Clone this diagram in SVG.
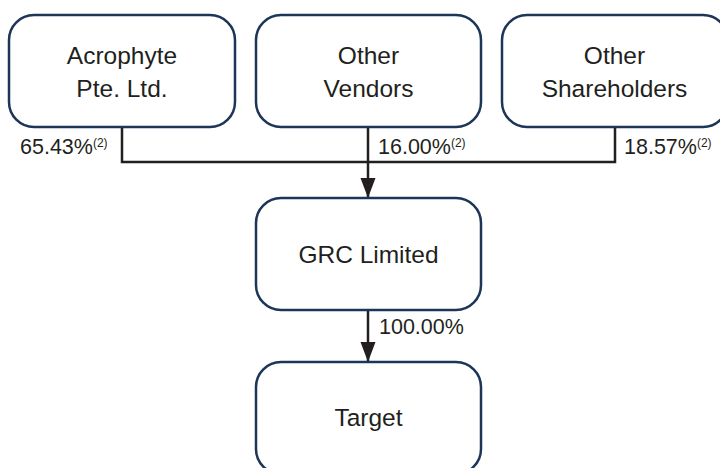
<svg xmlns="http://www.w3.org/2000/svg" width="720" height="468" viewBox="0 0 720 468">
<defs>
<style>
.box{fill:#fff;stroke:#1d3557;stroke-width:2.5}
.t{font-family:"Liberation Sans",Arial,sans-serif;font-size:24.5px;fill:#231f20;text-anchor:middle}
.l{font-family:"Liberation Sans",Arial,sans-serif;font-size:21.5px;fill:#231f20}
.s{font-size:12px}
.c{fill:none;stroke:#231f20;stroke-width:2.5}
</style>
<marker id="ah" markerUnits="userSpaceOnUse" markerWidth="20" markerHeight="16" refX="20" refY="8" orient="auto" viewBox="0 0 20 16">
<path d="M0,0.5 L20,8 L0,15.5 Z" fill="#231f20"/>
</marker>
</defs>
<rect width="720" height="468" fill="#fff"/>
<g id="connectors">
<path class="c" d="M122,127 V162 H615 V127"/>
<path class="c" d="M368,127 V198" marker-end="url(#ah)"/>
<path class="c" d="M368,310 V362" marker-end="url(#ah)"/>
</g>
<g id="acrophyte">
<rect class="box" x="9" y="15" width="226" height="112" rx="25"/>
<text class="t" x="122" y="64">Acrophyte</text>
<text class="t" x="122" y="97">Pte. Ltd.</text>
</g>
<g id="other-vendors">
<rect class="box" x="256" y="15" width="225" height="112" rx="25"/>
<text class="t" x="368.5" y="64">Other</text>
<text class="t" x="368.5" y="97">Vendors</text>
</g>
<g id="other-shareholders">
<rect class="box" x="502" y="15" width="226" height="112" rx="25"/>
<text class="t" x="614.5" y="64">Other</text>
<text class="t" x="614.5" y="97">Shareholders</text>
</g>
<g id="grc">
<rect class="box" x="256" y="198" width="225" height="112" rx="25"/>
<text class="t" x="368.5" y="263">GRC Limited</text>
</g>
<g id="target">
<rect class="box" x="256" y="362" width="225" height="112" rx="25"/>
<text class="t" x="368.5" y="426">Target</text>
</g>
<g id="labels">
<text class="l" x="20" y="154">65.43%<tspan class="s" dy="-7">(2)</tspan></text>
<text class="l" x="378" y="154">16.00%<tspan class="s" dy="-7">(2)</tspan></text>
<text class="l" x="624" y="154">18.57%<tspan class="s" dy="-7">(2)</tspan></text>
<text class="l" x="379" y="334">100.00%</text>
</g>
</svg>
